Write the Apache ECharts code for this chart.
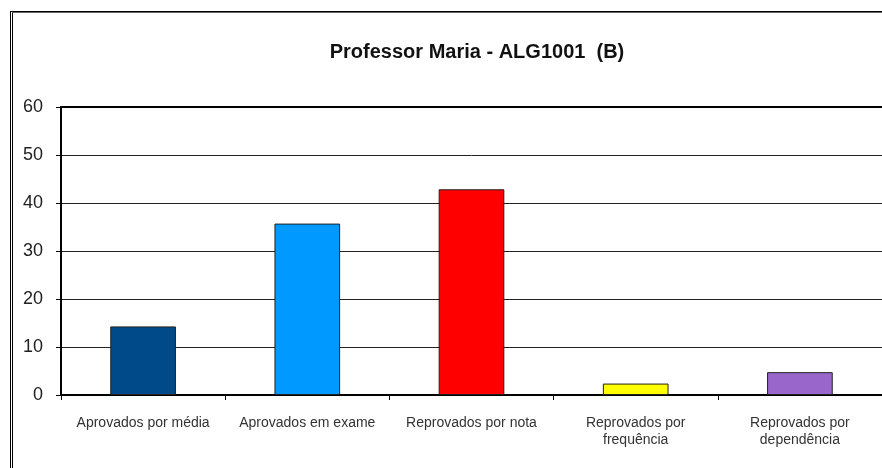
<!DOCTYPE html>
<html>
<head>
<meta charset="utf-8">
<script src="https://cdn.jsdelivr.net/npm/echarts@6/dist/echarts.min.js"></script>
<style>
  html, body { margin: 0; padding: 0; background: #fff; }
  #chart { width: 882px; height: 468px; }
</style>
</head>
<body>
<div id="chart"></div>
<script>
const categories = ['Aprovados por média', 'Aprovados em exame', 'Reprovados por nota', 'Reprovados por\nfrequência', 'Reprovados por\ndependência'];
const values = [14.29, 35.71, 42.86, 2.38, 4.76];
const barColors = ['#004a8a', '#0099ff', '#ff0000', '#ffff00', '#9966cc'];
const yTicks = [0, 10, 20, 30, 40, 50, 60];

document.addEventListener('DOMContentLoaded', function() {
    const chart = echarts.init(document.getElementById('chart'));

    const option = {
        backgroundColor: '#fff',
        animation: false,
        title: {
            text: 'Professor Maria - ALG1001  (B)',
            left: 472,
            top: 37,
            textAlign: 'center',
            textStyle: {
                fontFamily: 'Liberation Sans, Arial, sans-serif',
                fontSize: 20,
                fontWeight: 'bold',
                color: '#111'
            }
        },
        graphic: [
            { type: 'line', shape: { x1: 10.5, y1: 11.5, x2: 10.5, y2: 468 }, style: { stroke: '#000', lineWidth: 1 } },
            { type: 'line', shape: { x1: 12.5, y1: 12.5, x2: 12.5, y2: 468 }, style: { stroke: '#000', lineWidth: 1 } },
            { type: 'line', shape: { x1: 10, y1: 11.5, x2: 882, y2: 11.5 }, style: { stroke: '#000', lineWidth: 1 } },
            { type: 'line', shape: { x1: 12, y1: 12.5, x2: 882, y2: 12.5 }, style: { stroke: '#666', lineWidth: 1 } }
        ],
        grid: {
            left: 61,
            right: -2,
            top: 107,
            bottom: 73,
            containLabel: false
        },
        xAxis: [{
            type: 'category',
            data: categories,
            axisLine: { lineStyle: { color: '#000', width: 2 } },
            axisTick: { show: true, length: 5, alignWithLabel: false, lineStyle: { color: '#000' } },
            axisLabel: {
                interval: 0,
                margin: 20,
                fontFamily: 'Liberation Sans, Arial, sans-serif',
                fontSize: 14,
                lineHeight: 17,
                color: '#333'
            }
        }, {
            type: 'category',
            position: 'top',
            data: categories,
            axisLine: { lineStyle: { color: '#000', width: 2 } },
            axisTick: { show: false },
            axisLabel: { show: false }
        }],
        yAxis: {
            type: 'value',
            min: yTicks[0],
            max: yTicks[yTicks.length - 1],
            interval: 10,
            axisLine: { show: true, lineStyle: { color: '#000', width: 2 } },
            axisTick: { show: true, length: 5, lineStyle: { color: '#000' } },
            splitLine: { lineStyle: { color: '#222', width: 1 } },
            axisLabel: {
                margin: 18,
                fontFamily: 'Liberation Sans, Arial, sans-serif',
                fontSize: 18,
                color: '#222'
            }
        },
        series: [{
            type: 'bar',
            barWidth: '40%',
            data: values.map(function(v, i) {
                return { value: v, itemStyle: { color: barColors[i] } };
            }),
            itemStyle: {
                borderColor: '#222',
                borderWidth: 1
            }
        }]
    };

    chart.setOption(option);

    window.addEventListener('resize', function() {
        chart.resize();
    });
});
</script>
</body>
</html>
